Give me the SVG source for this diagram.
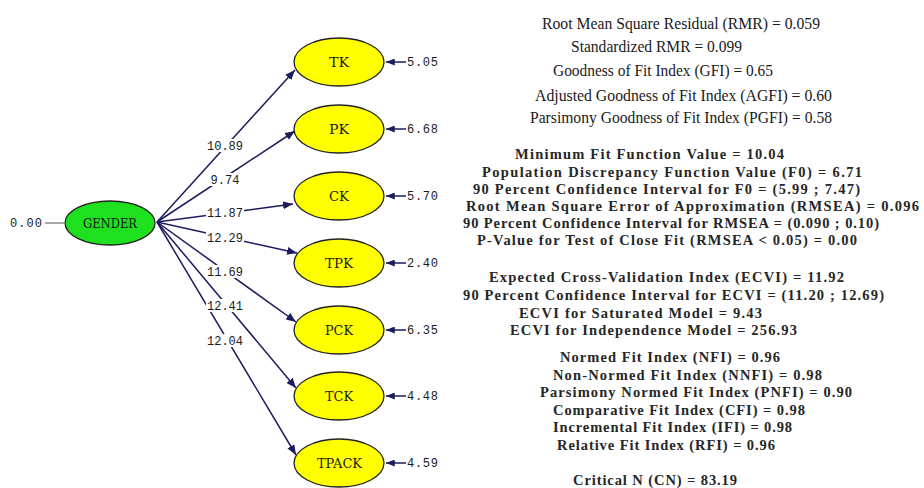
<svg xmlns="http://www.w3.org/2000/svg" width="924" height="488" viewBox="0 0 924 488">
  <style>
    .bg { fill: #ffffff; }
    .latent { fill: #ffff00; stroke: #222222; stroke-width: 1.3; }
    .exo { fill: #1ee01e; stroke: #222222; stroke-width: 1.3; }
    .nodetxt { font-family: "DejaVu Serif", "Liberation Serif", serif; font-size: 13px; fill: #1a1a1a; }
    .path { stroke: #1b1b5e; stroke-width: 1.5; fill: none; marker-end: url(#arrow); }
    .err { stroke: #1b1b5e; stroke-width: 1.5; fill: none; marker-end: url(#arrowSmall); }
    .fix { stroke: #777777; stroke-width: 1.3; fill: none; }
    .lblbg { fill: #ffffff; }
    .coef { font-family: "Liberation Mono", "DejaVu Sans Mono", monospace; font-size: 12px; fill: #1a1a1a; text-anchor: middle; }
    .errtxt { font-family: "Liberation Mono", "DejaVu Sans Mono", monospace; font-size: 12px; fill: #1a1a1a; }
    .fit { font-family: "Liberation Serif", "Times New Roman", serif; font-size: 17px; fill: #1a1a1a; }
    .fit2 { font-family: "Liberation Serif", "Times New Roman", serif; font-size: 14.5px; font-weight: bold; fill: #262626; }
  </style>
  <defs>
    <marker id="arrow" viewBox="0 0 10 8" refX="10" refY="4" markerWidth="10" markerHeight="8" markerUnits="userSpaceOnUse" orient="auto">
      <path d="M0,0 L10,4 L0,8 Z" fill="#1b1b5e"/>
    </marker>
    <marker id="arrowSmall" viewBox="0 0 10 8" refX="10" refY="4" markerWidth="9" markerHeight="7" markerUnits="userSpaceOnUse" orient="auto">
      <path d="M0,0 L10,4 L0,8 Z" fill="#1b1b5e"/>
    </marker>
  </defs>
  <rect class="bg" x="0" y="0" width="924" height="488"/>

  <!-- structural paths from GENDER with coefficient labels -->
  <g id="connectors">
    <line class="path" x1="157" y1="222" x2="295" y2="70"/>
    <line class="path" x1="157" y1="222" x2="295" y2="131"/>
    <line class="path" x1="157" y1="222" x2="293" y2="204"/>
    <line class="path" x1="157" y1="222" x2="297" y2="253"/>
    <line class="path" x1="157" y1="222" x2="296" y2="322"/>
    <line class="path" x1="157" y1="222" x2="296" y2="388"/>
    <line class="path" x1="157" y1="222" x2="296" y2="455"/>

    <rect class="lblbg" x="206" y="139" width="38" height="13"/>
    <rect class="lblbg" x="208" y="173" width="34" height="13"/>
    <rect class="lblbg" x="206" y="206" width="38" height="13"/>
    <rect class="lblbg" x="206" y="231" width="38" height="13"/>
    <rect class="lblbg" x="206" y="265" width="38" height="13"/>
    <rect class="lblbg" x="206" y="299" width="38" height="13"/>
    <rect class="lblbg" x="206" y="334" width="38" height="13"/>

    <text class="coef" x="225" y="150">10.89</text>
    <text class="coef" x="225" y="184">9.74</text>
    <text class="coef" x="225" y="217">11.87</text>
    <text class="coef" x="225" y="242">12.29</text>
    <text class="coef" x="225" y="276">11.69</text>
    <text class="coef" x="225" y="310">12.41</text>
    <text class="coef" x="225" y="345">12.04</text>

    <!-- error terms -->
    <line class="err" x1="406" y1="62" x2="386" y2="62"/>
    <line class="err" x1="406" y1="129" x2="386" y2="129"/>
    <line class="err" x1="406" y1="196" x2="386" y2="196"/>
    <line class="err" x1="406" y1="263" x2="386" y2="263"/>
    <line class="err" x1="406" y1="330" x2="386" y2="330"/>
    <line class="err" x1="406" y1="396" x2="386" y2="396"/>
    <line class="err" x1="406" y1="463" x2="386" y2="463"/>

    <!-- fixed variance of GENDER -->
    <line class="fix" x1="45" y1="223" x2="64" y2="223"/>
  </g>

  <g id="GENDER">
    <ellipse class="exo" cx="110" cy="223" rx="45" ry="22"/>
    <text class="nodetxt" x="83" y="228" textLength="54" lengthAdjust="spacingAndGlyphs">GENDER</text>
    <text class="errtxt" x="10" y="227" textLength="32">0.00</text>
  </g>

  <g id="TK">
    <ellipse class="latent" cx="339" cy="62" rx="45" ry="24"/>
    <text class="nodetxt" x="329" y="67" textLength="20" lengthAdjust="spacingAndGlyphs">TK</text>
    <text class="errtxt" x="407" y="66" textLength="31">5.05</text>
  </g>
  <g id="PK">
    <ellipse class="latent" cx="339" cy="129" rx="45" ry="24"/>
    <text class="nodetxt" x="329" y="134" textLength="20" lengthAdjust="spacingAndGlyphs">PK</text>
    <text class="errtxt" x="407" y="133" textLength="31">6.68</text>
  </g>
  <g id="CK">
    <ellipse class="latent" cx="339" cy="196" rx="45" ry="24"/>
    <text class="nodetxt" x="329" y="201" textLength="20" lengthAdjust="spacingAndGlyphs">CK</text>
    <text class="errtxt" x="407" y="200" textLength="31">5.70</text>
  </g>
  <g id="TPK">
    <ellipse class="latent" cx="339" cy="263" rx="45" ry="24"/>
    <text class="nodetxt" x="325" y="268" textLength="28" lengthAdjust="spacingAndGlyphs">TPK</text>
    <text class="errtxt" x="407" y="267" textLength="31">2.40</text>
  </g>
  <g id="PCK">
    <ellipse class="latent" cx="339" cy="330" rx="45" ry="24"/>
    <text class="nodetxt" x="325" y="335" textLength="28" lengthAdjust="spacingAndGlyphs">PCK</text>
    <text class="errtxt" x="407" y="334" textLength="31">6.35</text>
  </g>
  <g id="TCK">
    <ellipse class="latent" cx="339" cy="396" rx="45" ry="24"/>
    <text class="nodetxt" x="325" y="401" textLength="28" lengthAdjust="spacingAndGlyphs">TCK</text>
    <text class="errtxt" x="407" y="400" textLength="31">4.48</text>
  </g>
  <g id="TPACK">
    <ellipse class="latent" cx="339" cy="463" rx="45" ry="24"/>
    <text class="nodetxt" x="317" y="468" textLength="45" lengthAdjust="spacingAndGlyphs">TPACK</text>
    <text class="errtxt" x="407" y="467" textLength="31">4.59</text>
  </g>

  <!-- goodness-of-fit statistics -->
  <g id="fit-statistics">
    <text class="fit" x="542" y="29" textLength="278" lengthAdjust="spacingAndGlyphs">Root Mean Square Residual (RMR) = 0.059</text>
    <text class="fit" x="571" y="52" textLength="171" lengthAdjust="spacingAndGlyphs">Standardized RMR = 0.099</text>
    <text class="fit" x="553" y="76" textLength="220" lengthAdjust="spacingAndGlyphs">Goodness of Fit Index (GFI) = 0.65</text>
    <text class="fit" x="535" y="101" textLength="297" lengthAdjust="spacingAndGlyphs">Adjusted Goodness of Fit Index (AGFI) = 0.60</text>
    <text class="fit" x="530" y="123" textLength="302" lengthAdjust="spacingAndGlyphs">Parsimony Goodness of Fit Index (PGFI) = 0.58</text>

    <text class="fit2" x="515" y="159" textLength="269" lengthAdjust="spacing">Minimum Fit Function Value = 10.04</text>
    <text class="fit2" x="482" y="177" textLength="380" lengthAdjust="spacing">Population Discrepancy Function Value (F0) = 6.71</text>
    <text class="fit2" x="473" y="194" textLength="387" lengthAdjust="spacing">90 Percent Confidence Interval for F0 = (5.99 ; 7.47)</text>
    <text class="fit2" x="466" y="211" textLength="453" lengthAdjust="spacing">Root Mean Square Error of Approximation (RMSEA) = 0.096</text>
    <text class="fit2" x="463" y="228" textLength="416" lengthAdjust="spacing">90 Percent Confidence Interval for RMSEA = (0.090 ; 0.10)</text>
    <text class="fit2" x="477" y="245" textLength="380" lengthAdjust="spacing">P-Value for Test of Close Fit (RMSEA &lt; 0.05) = 0.00</text>

    <text class="fit2" x="489" y="282" textLength="355" lengthAdjust="spacing">Expected Cross-Validation Index (ECVI) = 11.92</text>
    <text class="fit2" x="463" y="300" textLength="421" lengthAdjust="spacing">90 Percent Confidence Interval for ECVI = (11.20 ; 12.69)</text>
    <text class="fit2" x="519" y="318" textLength="243" lengthAdjust="spacing">ECVI for Saturated Model = 9.43</text>
    <text class="fit2" x="510" y="335" textLength="287" lengthAdjust="spacing">ECVI for Independence Model = 256.93</text>

    <text class="fit2" x="560" y="362" textLength="220" lengthAdjust="spacing">Normed Fit Index (NFI) = 0.96</text>
    <text class="fit2" x="553" y="380" textLength="269" lengthAdjust="spacing">Non-Normed Fit Index (NNFI) = 0.98</text>
    <text class="fit2" x="540" y="397" textLength="312" lengthAdjust="spacing">Parsimony Normed Fit Index (PNFI) = 0.90</text>
    <text class="fit2" x="553" y="415" textLength="252" lengthAdjust="spacing">Comparative Fit Index (CFI) = 0.98</text>
    <text class="fit2" x="553" y="432" textLength="239" lengthAdjust="spacing">Incremental Fit Index (IFI) = 0.98</text>
    <text class="fit2" x="557" y="450" textLength="218" lengthAdjust="spacing">Relative Fit Index (RFI) = 0.96</text>

    <text class="fit2" x="573" y="485" textLength="164" lengthAdjust="spacing">Critical N (CN) = 83.19</text>
  </g>
</svg>
